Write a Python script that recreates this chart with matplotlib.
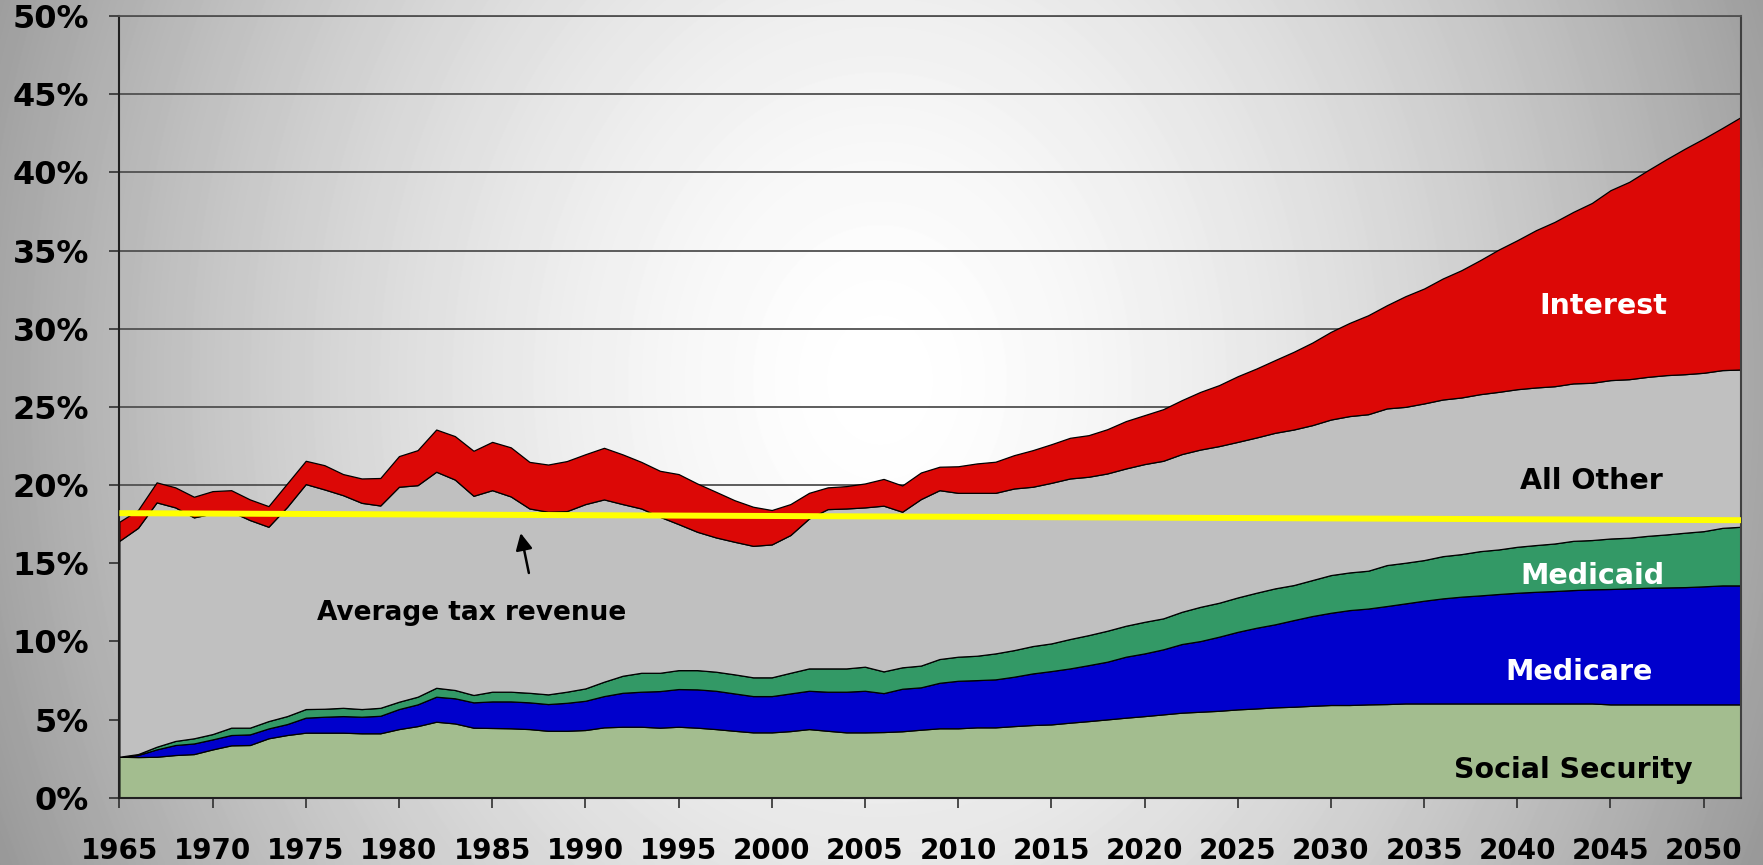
import matplotlib
matplotlib.use("Agg")
import matplotlib.pyplot as plt
import numpy as np

# spending by category, % of GDP
years = list(range(1965, 2053))

social_security = [
    2.62, 2.60, 2.62, 2.73, 2.79, 3.09, 3.35, 3.37, 3.80, 4.01,
    4.16, 4.16, 4.16, 4.12, 4.12, 4.39, 4.58, 4.86, 4.75, 4.48,
    4.46, 4.44, 4.39, 4.28, 4.28, 4.33, 4.50, 4.54, 4.54, 4.48,
    4.54, 4.48, 4.39, 4.28, 4.18, 4.18, 4.26, 4.39, 4.28, 4.18,
    4.18, 4.20, 4.25, 4.35, 4.44, 4.44, 4.50, 4.50, 4.58, 4.65,
    4.69, 4.80, 4.90, 5.01, 5.12, 5.22, 5.33, 5.44, 5.50, 5.56,
    5.65, 5.71, 5.78, 5.82, 5.88, 5.93, 5.93, 5.97, 5.99, 6.03,
    6.03, 6.03, 6.03, 6.03, 6.03, 6.03, 6.03, 6.03, 6.03, 6.03,
    5.97, 5.97, 5.97, 5.97, 5.97, 5.97, 5.97, 5.97,
]

medicare = [
    0.00, 0.13, 0.47, 0.64, 0.68, 0.64, 0.66, 0.68, 0.63, 0.70,
    0.96, 1.02, 1.06, 1.06, 1.12, 1.28, 1.39, 1.60, 1.61, 1.62,
    1.70, 1.72, 1.71, 1.71, 1.79, 1.87, 2.00, 2.17, 2.24, 2.34,
    2.41, 2.45, 2.45, 2.39, 2.32, 2.32, 2.41, 2.45, 2.50, 2.60,
    2.66, 2.49, 2.72, 2.71, 2.91, 3.04, 3.02, 3.07, 3.16, 3.30,
    3.41, 3.47, 3.58, 3.69, 3.90, 4.01, 4.16, 4.39, 4.52, 4.74,
    4.96, 5.16, 5.31, 5.54, 5.74, 5.90, 6.07, 6.13, 6.27, 6.40,
    6.57, 6.72, 6.83, 6.91, 7.00, 7.08, 7.14, 7.19, 7.25, 7.30,
    7.38, 7.42, 7.46, 7.48, 7.50, 7.55, 7.61, 7.61,
]

medicaid = [
    0.00, 0.06, 0.17, 0.26, 0.33, 0.34, 0.47, 0.43, 0.47, 0.51,
    0.55, 0.51, 0.53, 0.49, 0.51, 0.47, 0.49, 0.57, 0.53, 0.47,
    0.62, 0.62, 0.61, 0.62, 0.71, 0.79, 0.92, 1.09, 1.21, 1.17,
    1.21, 1.23, 1.22, 1.22, 1.20, 1.20, 1.32, 1.43, 1.49, 1.49,
    1.54, 1.39, 1.37, 1.39, 1.52, 1.54, 1.56, 1.66, 1.70, 1.75,
    1.77, 1.88, 1.92, 1.98, 1.98, 2.02, 1.98, 2.06, 2.19, 2.17,
    2.20, 2.24, 2.30, 2.24, 2.30, 2.41, 2.41, 2.42, 2.62, 2.60,
    2.60, 2.70, 2.72, 2.83, 2.85, 2.94, 2.99, 3.04, 3.15, 3.15,
    3.23, 3.24, 3.32, 3.39, 3.48, 3.53, 3.68, 3.75,
]

all_other = [
    13.81, 14.47, 15.63, 14.94, 14.13, 14.11, 13.82, 13.28, 12.43, 13.38,
    14.39, 14.03, 13.60, 13.19, 12.94, 13.75, 13.53, 13.82, 13.46, 12.74,
    12.89, 12.49, 11.79, 11.68, 11.55, 11.79, 11.66, 10.98, 10.51, 9.98,
    9.34, 8.85, 8.59, 8.48, 8.41, 8.50, 8.81, 9.59, 10.19, 10.23,
    10.19, 10.60, 9.95, 10.65, 10.80, 10.48, 10.42, 10.27, 10.34, 10.19,
    10.27, 10.27, 10.13, 10.06, 10.06, 10.09, 10.08, 10.09, 10.06, 10.02,
    9.95, 9.93, 9.95, 9.95, 9.91, 9.95, 10.00, 10.01, 10.02, 9.97,
    10.02, 10.02, 10.02, 10.04, 10.08, 10.08, 10.08, 10.06, 10.07, 10.06,
    10.13, 10.14, 10.17, 10.19, 10.14, 10.13, 10.09, 10.06,
]

interest = [
    1.22, 1.14, 1.28, 1.28, 1.32, 1.43, 1.37, 1.32, 1.32, 1.50,
    1.49, 1.55, 1.35, 1.56, 1.76, 1.96, 2.24, 2.70, 2.78, 2.88,
    3.09, 3.14, 2.98, 3.02, 3.20, 3.19, 3.30, 3.18, 2.98, 2.94,
    3.20, 3.09, 2.92, 2.66, 2.50, 2.20, 1.98, 1.64, 1.39, 1.43,
    1.53, 1.71, 1.68, 1.70, 1.50, 1.70, 1.88, 1.99, 2.13, 2.34,
    2.47, 2.60, 2.66, 2.83, 3.03, 3.13, 3.30, 3.45, 3.69, 3.90,
    4.20, 4.41, 4.65, 4.97, 5.28, 5.61, 5.96, 6.33, 6.60, 7.08,
    7.35, 7.74, 8.14, 8.57, 9.10, 9.53, 10.06, 10.51, 10.97, 11.50,
    12.15, 12.62, 13.21, 13.81, 14.43, 14.98, 15.49, 16.15,
]

# average tax revenue line
avg_tax_years = [1965, 2052]
avg_tax = [18.2, 17.75]

series_names = ["Social Security", "Medicare", "Medicaid", "All Other", "Interest"]
colors = ["#a3bd8f", "#0000cc", "#339966", "#c0c0c0", "#dc0806"]

fig = plt.figure(figsize=(17.63, 8.65), dpi=100)

# soft radial grey background behind everything
h, w = 865, 1763
yy, xx = np.mgrid[0:h, 0:w]
r = np.sqrt(((xx - 880) / 900.0) ** 2 + ((yy - 380) / 1100.0) ** 2)
shade = 1 - 0.36 * np.clip(r, 0, 1.3) ** 1.6
bg = fig.add_axes([0, 0, 1, 1], zorder=0)
bg.imshow(shade, cmap="gray", vmin=0, vmax=1, aspect="auto", interpolation="bilinear")
bg.axis("off")

ax = fig.add_axes([0.0677, 0.0778, 0.9198, 0.9037], zorder=1)
ax.patch.set_alpha(0)

ax.stackplot(years, social_security, medicare, medicaid, all_other, interest,
             colors=colors, edgecolor="black", linewidth=0.9, labels=series_names, zorder=2)

ax.plot(avg_tax_years, avg_tax, color="#ffff00", lw=4.3, zorder=4, solid_capstyle="butt")

ax.set_xlim(1965, 2052)
ax.set_ylim(0, 50)
ax.set_xticks(range(1965, 2051, 5))
ax.set_yticks(range(0, 51, 5))
ax.set_yticklabels([f"{v}%" for v in range(0, 51, 5)])

ax.set_axisbelow(True)
ax.yaxis.grid(True, color="#505050", lw=1.3)
for s in ["left", "bottom"]:
    ax.spines[s].set_color("#202020")
    ax.spines[s].set_linewidth(1.5)
ax.spines["top"].set_color("#505050")
ax.spines["top"].set_linewidth(1.3)
ax.spines["right"].set_color("#404040")
ax.spines["right"].set_linewidth(1.5)

ax.tick_params(axis="y", length=7, width=1.2, color="#303030", pad=15,
               labelsize=23)
ax.tick_params(axis="x", length=7, width=1.2, color="#303030", pad=21,
               labelsize=20)
for lab in ax.get_xticklabels() + ax.get_yticklabels():
    lab.set_fontweight("bold")

# series labels
ax.text(2044.6, 30.97, "Interest", color="white", fontsize=20.5, fontweight="bold",
        ha="center", va="baseline", zorder=5)
ax.text(2044.0, 19.74, "All Other", color="black", fontsize=20.5, fontweight="bold",
        ha="center", va="baseline", zorder=5)
ax.text(2044.05, 13.64, "Medicaid", color="white", fontsize=20.5, fontweight="bold",
        ha="center", va="baseline", zorder=5)
ax.text(2043.3, 7.53, "Medicare", color="white", fontsize=20.5, fontweight="bold",
        ha="center", va="baseline", zorder=5)
ax.text(2043.0, 1.28, "Social Security", color="black", fontsize=20.5, fontweight="bold",
        ha="center", va="baseline", zorder=5)

ax.text(1983.9, 11.36, "Average tax revenue", color="black", fontsize=19, fontweight="bold",
        ha="center", va="baseline", zorder=5)
ax.annotate("", xy=(1986.5, 17.1), xytext=(1987.0, 14.2),
            arrowprops=dict(arrowstyle="-|>", color="black", lw=1.8, mutation_scale=25),
            zorder=5)

fig.savefig("out.png", dpi=100)
